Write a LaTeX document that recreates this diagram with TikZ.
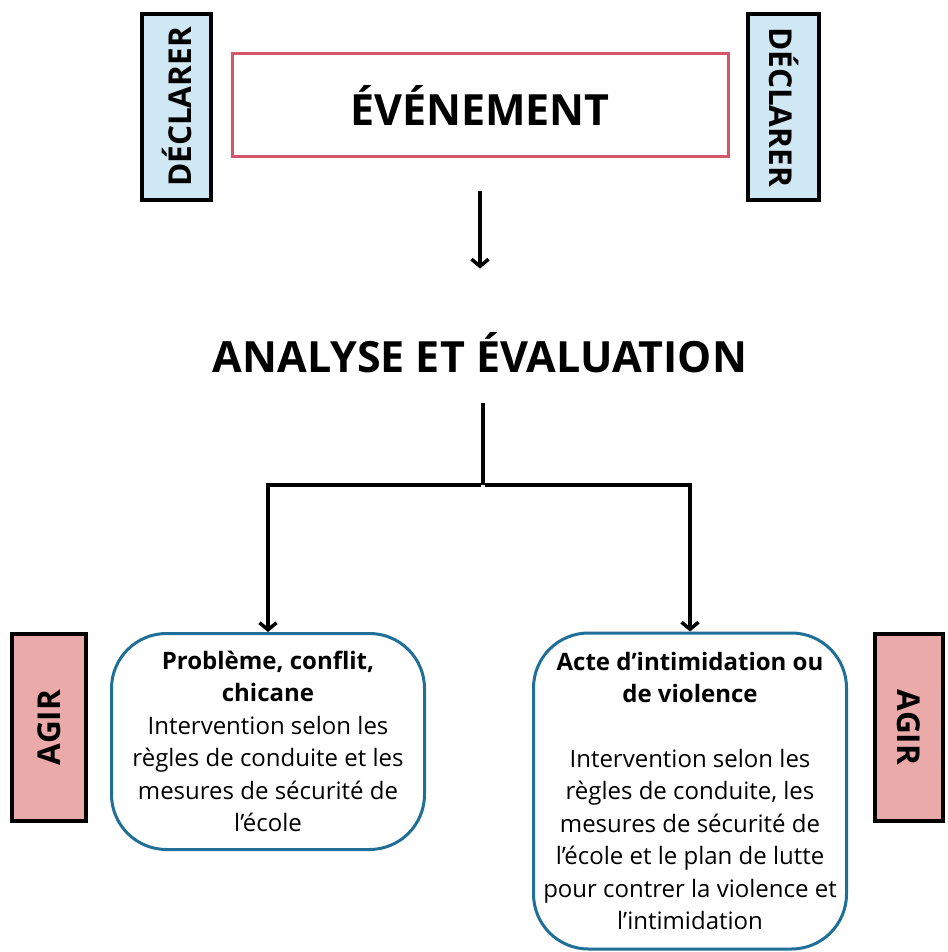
\documentclass[tikz,border=0pt]{standalone}
\usepackage{fontspec}
\setmainfont{Open Sans}
\usetikzlibrary{arrows.meta}

\definecolor{declblue}{HTML}{D0E8F4}
\definecolor{agirpink}{HTML}{EBAAAA}
\definecolor{eventred}{HTML}{D5566B}
\definecolor{caseblue}{HTML}{1F6F98}

\tikzset{
    tag/.style={draw=black, line width=4pt, inner sep=0pt, font=\fontsize{31.5}{31.5}\selectfont\bfseries},
    declbox/.style={tag, fill=declblue, minimum width=186pt, minimum height=69pt},
    agirbox/.style={tag, fill=agirpink, minimum width=187pt, minimum height=70pt},
    casebox/.style={draw=caseblue, line width=3pt, rounded corners=55pt, align=center,
        minimum width=313pt, inner sep=0pt, font=\fontsize{24}{32.5}\selectfont},
    wire/.style={line width=3.5pt},
    arr/.style={wire, -{Straight Barb[length=7pt, width=17pt]}}
}

\begin{document}
\begin{tikzpicture}[x=1pt, y=-1pt]
                \useasboundingbox (0,0) rectangle (947,952);
                % Nodes:
                \node[declbox, rotate=90] (declL) at (176.5, 107) {DÉCLARER};
                \node[declbox, rotate=-90, minimum height=71pt] (declR) at (783.5, 107) {DÉCLARER};
                \node[draw=eventred, line width=3pt, minimum width=496pt, minimum height=103pt,
                      font=\fontsize{43}{43}\selectfont\bfseries] (event) at (480, 105.5) {ÉVÉNEMENT};
                \node[font=\fontsize{43}{43}\selectfont\bfseries] (analyse) at (480, 353) {ANALYSE ET ÉVALUATION};
                \node[agirbox, rotate=90, minimum height=74pt] (agirL) at (49, 727.5) {AGIR};
                \node[agirbox, rotate=-90, minimum height=68pt] (agirR) at (909, 727.5) {AGIR};
                \node[casebox, minimum height=216pt] (caseL) at (268, 741.5)
                    {\textbf{Problème, conflit,}\\ \textbf{chicane}\\ Intervention selon les\\
                     règles de conduite et les\\ mesures de sécurité de\\ l’école};
                \node[casebox, minimum height=316pt] (caseR) at (690, 791)
                    {\textbf{Acte d’intimidation ou}\\ \textbf{de violence}\\[32pt] Intervention selon les\\
                     règles de conduite, les\\ mesures de sécurité de\\ l’école et le plan de lutte\\
                     pour contrer la violence et\\ l’intimidation};
                \coordinate (split) at (483, 485);
                % Wires:
                \draw[arr] ([yshift=-32pt]event.south) -- ([yshift=-110pt]event.south);
                \draw[wire] (split |- 0,403) -- (split);
                \draw[arr] ([xshift=-1.75pt]split) -| (caseL.north);
                \draw[arr] ([xshift=1.75pt]split) -| (caseR.north);
            \end{tikzpicture}
\end{document}
